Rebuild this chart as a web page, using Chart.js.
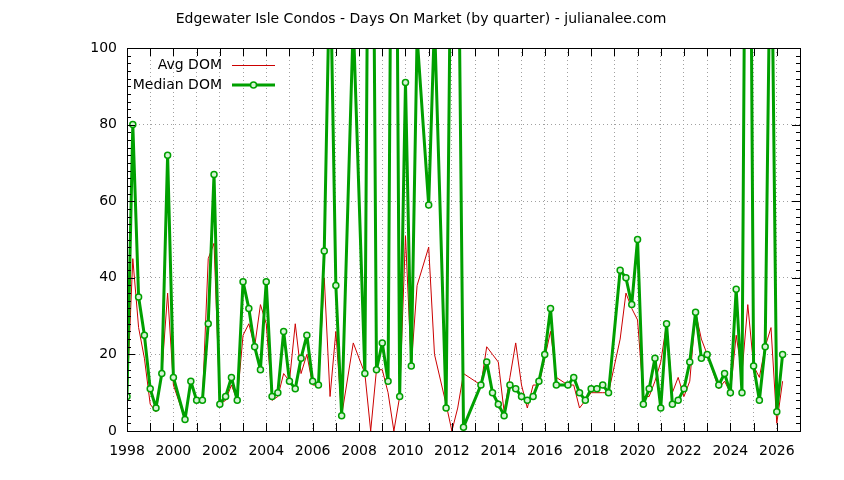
<!DOCTYPE html>
<html>
<head>
<meta charset="utf-8">
<title>Edgewater Isle Condos - Days On Market</title>
<script src="https://cdn.jsdelivr.net/npm/chart.js@4.4.1/dist/chart.umd.min.js"></script>
<style>
  html, body { margin: 0; padding: 0; background: #fff; }
  canvas { display: block; }
</style>
</head>
<body>
<canvas id="dom" width="844" height="480"></canvas>
<script>
const chartTitle = 'Edgewater Isle Condos - Days On Market (by quarter) - julianalee.com';
const firstYear = 1998;
const lastYear = 2027;
const yearLabels = [1998, 2000, 2002, 2004, 2006, 2008, 2010, 2012, 2014, 2016, 2018, 2020, 2022, 2024, 2026];
const domTicks = [0, 20, 40, 60, 80, 100];

// one value per quarter from 1998 Q1, null = no sale that quarter
const avgDom = [
  9, 45, 27, 19, 7, 5, 15, 36,
  12, null, 3, 13, 8, 8, 45, 49,
  7, 8, 12, 8, 25, 28, 22, 33,
  28, 8, 9, 15, 13, 28, 15, 20,
  12, 12, 40, 9, 26, 4, null, 23,
  null, 15, 0, 16, 16, 10, 0, 9,
  51, 17, 38, null, 48, 20, null, 7,
  0, 6, 15, null, null, 12, 22, 20,
  18, 5, 14, 23, 12, 6, 12, 12,
  19, 26, 14, null, 12, 12, 6, 8,
  10, 10, 10, 10, null, 24, 36, 32,
  29, 9, 9, 13, 18, 28, 10, 14,
  9, 13, 31, 24, 20, null, 11, 13,
  10, 25, 15, 33, 17, 14, 22, 27,
  2, 13
];
const medianDom = [
  9, 80, 35, 25, 11, 6, 15, 72,
  14, null, 3, 13, 8, 8, 28, 67,
  7, 9, 14, 8, 39, 32, 22, 16,
  39, 9, 10, 26, 13, 11, 19, 25,
  13, 12, 47, 125, 38, 4, null, 107,
  null, 15, 240, 16, 23, 13, 250, 9,
  91, 17, 103, null, 59, 107, null, 6,
  160, 150, 1, null, null, 12, 18, 10,
  7, 4, 12, 11, 9, 8, 9, 13,
  20, 32, 12, null, 12, 14, 10, 8,
  11, 11, 12, 10, null, 42, 40, 33,
  50, 7, 11, 19, 6, 28, 7, 8,
  11, 18, 31, 19, 20, null, 12, 15,
  10, 37, 10, 250, 17, 8, 22, 145,
  5, 20
];

const toPoints = vals => vals.map((v, i) => ({ x: firstYear + i / 4, y: v }));

const font = { family: "'DejaVu Sans', sans-serif", size: 14 };
const avgColor = '#cc0000';
const medColor = '#00a000';

// gnuplot style frame: border, inward ticks on all sides, title and key
const gnuplotFrame = {
  id: 'gnuplotFrame',
  afterDraw(chart) {
    const { ctx, chartArea: a, scales: { x, y } } = chart;
    ctx.save();
    ctx.strokeStyle = '#000';
    ctx.lineWidth = 1;
    ctx.beginPath();
    for (let v = 0; v <= 100; v += 2) {
      const py = Math.round(y.getPixelForValue(v)) + 0.5;
      const len = v % 20 === 0 ? 8 : 4;
      ctx.moveTo(a.left, py); ctx.lineTo(a.left + len, py);
      ctx.moveTo(a.right, py); ctx.lineTo(a.right - len, py);
    }
    for (let yr = firstYear; yr <= lastYear; yr++) {
      const px = Math.round(x.getPixelForValue(yr)) + 0.5;
      ctx.moveTo(px, a.bottom); ctx.lineTo(px, a.bottom - 8);
      ctx.moveTo(px, a.top); ctx.lineTo(px, a.top + 8);
    }
    ctx.stroke();
    ctx.strokeRect(a.left + 0.5, a.top + 0.5, a.right - a.left, a.bottom - a.top);

    ctx.fillStyle = '#000';
    ctx.font = `${font.size}px ${font.family}`;
    ctx.textBaseline = 'middle';
    ctx.textAlign = 'center';
    ctx.fillText(chartTitle, 421, 19);

    // key
    ctx.textAlign = 'right';
    ctx.fillText('Avg DOM', 222, 65);
    ctx.fillText('Median DOM', 222, 85);
    ctx.strokeStyle = avgColor;
    ctx.lineWidth = 1;
    ctx.beginPath();
    ctx.moveTo(232, 65.5); ctx.lineTo(275, 65.5);
    ctx.stroke();
    ctx.strokeStyle = medColor;
    ctx.lineWidth = 3;
    ctx.beginPath();
    ctx.moveTo(232, 85); ctx.lineTo(275, 85);
    ctx.stroke();
    ctx.lineWidth = 1.5;
    ctx.fillStyle = '#d6f3d6';
    ctx.beginPath();
    ctx.arc(253.5, 85, 3, 0, Math.PI * 2);
    ctx.fill();
    ctx.stroke();
    ctx.restore();
  }
};

new Chart(document.getElementById('dom'), {
  type: 'line',
  data: {
    datasets: [
      {
        label: 'Avg DOM',
        data: toPoints(avgDom),
        borderColor: avgColor,
        borderWidth: 1,
        borderJoinStyle: 'round',
        pointRadius: 0,
        tension: 0,
        spanGaps: true,
        order: 2
      },
      {
        label: 'Median DOM',
        data: toPoints(medianDom),
        borderColor: medColor,
        borderWidth: 3,
        borderJoinStyle: 'round',
        borderCapStyle: 'round',
        pointRadius: 3,
        pointBorderWidth: 1.5,
        pointBorderColor: medColor,
        pointBackgroundColor: '#d6f3d6',
        tension: 0,
        spanGaps: true,
        order: 1
      }
    ]
  },
  options: {
    responsive: false,
    animation: false,
    devicePixelRatio: 1,
    layout: { padding: { left: 0, top: 48, right: 44, bottom: 0 } },
    plugins: {
      legend: { display: false },
      title: { display: false },
      tooltip: { enabled: false }
    },
    scales: {
      x: {
        type: 'linear',
        min: firstYear,
        max: lastYear,
        afterFit: s => { s.height = 49; },
        afterBuildTicks: s => {
          const t = [];
          for (let yr = firstYear; yr <= lastYear; yr++) t.push({ value: yr });
          s.ticks = t;
        },
        ticks: {
          autoSkip: false,
          maxRotation: 0,
          padding: 12,
          color: '#000',
          font,
          callback: v => yearLabels.includes(v) ? String(v) : ''
        },
        grid: { color: '#a0a0a0', lineWidth: 1, drawTicks: false },
        border: { display: false, dash: [1, 3] }
      },
      y: {
        min: 0,
        max: 100,
        afterFit: s => { s.width = 127; },
        afterBuildTicks: s => { s.ticks = domTicks.map(v => ({ value: v })); },
        ticks: { padding: 10, color: '#000', font },
        grid: { color: '#a0a0a0', lineWidth: 1, drawTicks: false },
        border: { display: false, dash: [1, 3] }
      }
    }
  },
  plugins: [gnuplotFrame]
});
</script>
</body>
</html>
